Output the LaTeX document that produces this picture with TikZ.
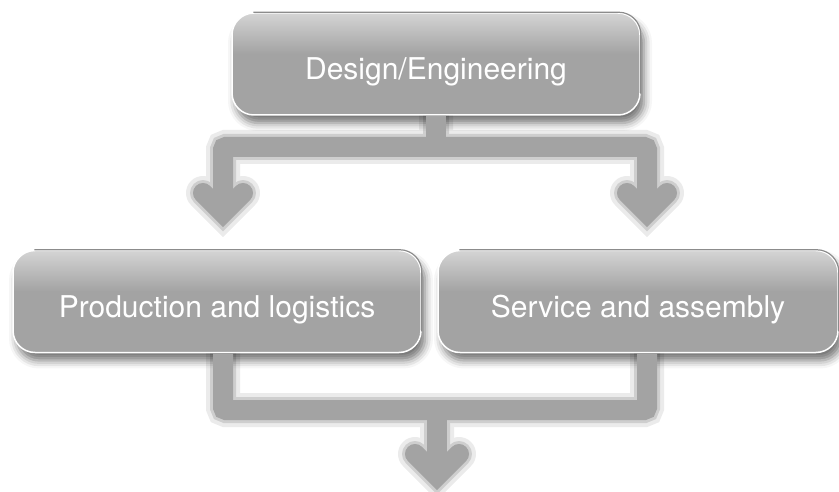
\documentclass[tikz,border=0pt]{standalone}
\usepackage{fontspec}
\setmainfont{TeX Gyre Heros}
\usetikzlibrary{shadows.blur}
\definecolor{flowGray}{HTML}{A3A3A3}
\definecolor{flowLight}{HTML}{D4D4D4}
\definecolor{flowRim}{HTML}{8C8C8C}
\pgfdeclareverticalshading{flowShade}{100bp}{color(0bp)=(flowGray); color(55bp)=(flowGray); color(75bp)=(flowLight); color(100bp)=(flowLight)}
\tikzstyle{flowBox} = [rectangle, rounded corners=22pt, minimum width=408pt, minimum height=102pt, inner sep=0pt, text centered, text=white, font=\fontsize{30}{36}\selectfont, text height=32pt, text depth=0pt, shading=flowShade, draw=white, line width=1.5pt, blur shadow={shadow xshift=4pt, shadow yshift=-8pt, shadow blur radius=8pt, shadow opacity=55}]
\tikzstyle{rim} = [draw=flowRim, line width=1.2pt, rounded corners=22pt]
\tikzstyle{pipe} = [draw=flowGray, line width=20pt, rounded corners=3pt]
\tikzstyle{chevron} = [draw=flowGray, line width=20pt, line cap=round, line join=miter]
% all connectors, #1 = extra options (used for the shadow copies)
\newcommand{\drawFlow}[1]{%
	\draw [pipe,#1] (design.south) -- (split);
	\draw [pipe,#1] (tipL) -- (tipL |- split) -- (tipR |- split) -- (tipR);
	\draw [chevron,#1] (tipL) ++(-20,20) -- (tipL) -- ++(20,20);
	\draw [chevron,#1] (tipR) ++(-20,20) -- (tipR) -- ++(20,20);
	\draw [pipe,#1] (prod.south -| mergeL) -- (mergeL) -- (mergeR) -- (serv.south -| mergeR);
	\draw [pipe,#1] (mergeL -| outTip) -- (outTip);
	\draw [chevron,#1] (outTip) ++(-22,22) -- (outTip) -- ++(22,22);
}

\begin{document}
\begin{tikzpicture}[x=1pt,y=1pt]
		\useasboundingbox (0,0) rectangle (839,491);
		\node [flowBox](design) at (436,427) {Design/Engineering};
		\node [flowBox,below of=design,node distance=237.5pt,xshift=-219pt](prod) {Production and logistics};
		\node [flowBox,minimum width=400pt,right of=prod,node distance=421pt](serv) {Service and assembly};
		\foreach \b in {design,prod,serv}
			\draw [rim] ([xshift=22pt]\b.north west) -- (\b.north east) -- ([yshift=22pt]\b.south east);
		
		\coordinate (split) at (436,344);
		\coordinate (tipL) at (223,278);
		\coordinate (tipR) at (647,278);
		\coordinate (mergeL) at (223,81);
		\coordinate (mergeR) at (647,81);
		\coordinate (outTip) at (437,15);
		
		% soft shadow under the connectors
		\begin{scope}[transparency group,opacity=0.08,shift={(4,-7)}]
			\drawFlow{draw=black,line width=34pt}
		\end{scope}
		\begin{scope}[transparency group,opacity=0.12,shift={(4,-7)}]
			\drawFlow{draw=black,line width=26pt}
		\end{scope}
		\drawFlow{}
		
		\end{tikzpicture}
\end{document}
